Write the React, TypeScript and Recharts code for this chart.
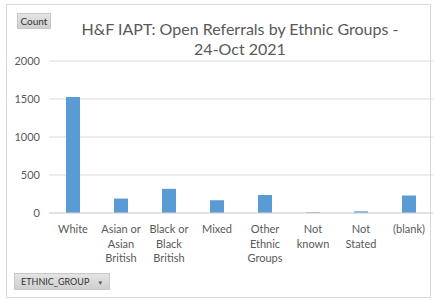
import React from 'react';
import { BarChart, Bar, XAxis, YAxis, CartesianGrid } from 'recharts';

const categories = ['White', 'Asian or Asian British', 'Black or Black British', 'Mixed', 'Other Ethnic Groups', 'Not known', 'Not Stated', '(blank)'];
const categoryLines = [
  ['White'],
  ['Asian or', 'Asian', 'British'],
  ['Black or', 'Black', 'British'],
  ['Mixed'],
  ['Other', 'Ethnic', 'Groups'],
  ['Not', 'known'],
  ['Not', 'Stated'],
  ['(blank)'],
];
const counts = [1525, 190, 318, 168, 237, 10, 22, 230];
const yTicks = [0, 500, 1000, 1500, 2000];

const data = categories.map((name, i) => ({ name, count: counts[i] }));

const FONT = 'Lato, "Open Sans", sans-serif';

function WrappedTick(props: any) {
  const { x, y, index } = props;
  const lines = categoryLines[index] || [];
  return (
    <text x={x} y={y} textAnchor="middle" fill="#595959" fontSize={11} fontFamily={FONT}>
      {lines.map((l, i) => (
        <tspan key={i} x={x} dy={i === 0 ? 12 : 14.5}>{l}</tspan>
      ))}
    </text>
  );
}

export default function App() {
  return (
    <div style={{ position: 'fixed', left: 0, top: 0, width: 435, height: 301, background: '#fff', fontFamily: FONT }}>
      <div style={{ position: 'absolute', left: 6, top: 4, width: 425, height: 294, border: '1px solid #D9D9D9', boxSizing: 'border-box' }} />
      <BarChart
        width={435}
        height={301}
        data={data}
        margin={{ top: 61, right: 2, left: 0, bottom: 0 }}
        barSize={14}
      >
        <CartesianGrid vertical={false} stroke="#D9D9D9" />
        <XAxis
          dataKey="name"
          height={88}
          interval={0}
          tickLine={false}
          axisLine={{ stroke: '#D9D9D9' }}
          tick={<WrappedTick />}
        />
        <YAxis
          width={49}
          domain={[0, 2000]}
          ticks={yTicks}
          axisLine={false}
          tickLine={false}
          tickSize={0}
          tickMargin={9}
          tick={{ fill: '#595959', fontSize: 11, fontFamily: FONT }}
        />
        <Bar dataKey="count" fill="#5B9BD5" isAnimationActive={false} />
      </BarChart>
      <div style={{ position: 'absolute', left: 60, width: 360, top: 19, textAlign: 'center', fontSize: 16, lineHeight: '20px', color: '#595959' }}>
        H&amp;F IAPT: Open Referrals by Ethnic Groups -<br />24-Oct 2021
      </div>
      <div style={{ position: 'absolute', left: 17, top: 13, width: 34, height: 16, background: 'linear-gradient(#E4E4E4, #CFCFCF)', border: '1px solid #C8C8C8', boxSizing: 'border-box', fontSize: 10, lineHeight: '14px', textAlign: 'center', color: '#333' }}>
        Count
      </div>
      <div style={{ position: 'absolute', left: 14, top: 273, width: 96, height: 17, background: 'linear-gradient(#E4E4E4, #CFCFCF)', border: '1px solid #C8C8C8', boxSizing: 'border-box', fontSize: 9, lineHeight: '15px', paddingLeft: 6, color: '#333', whiteSpace: 'nowrap', overflow: 'hidden' }}>
        ETHNIC_GROUP<span style={{ fontSize: 6, marginLeft: 8, color: '#555', verticalAlign: 'middle' }}>▼</span>
      </div>
    </div>
  );
}
